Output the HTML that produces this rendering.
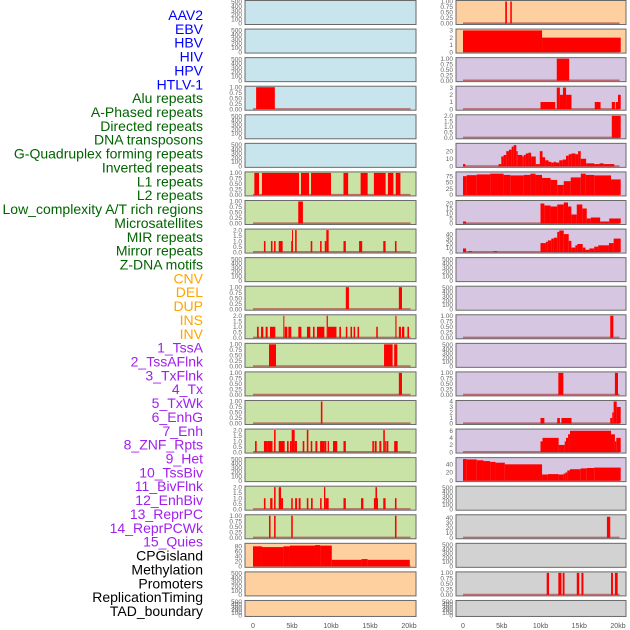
<!DOCTYPE html>
<html><head><meta charset="utf-8">
<style>
html,body{margin:0;padding:0;background:#fff;}
svg{display:block;font-family:"Liberation Sans",sans-serif;}
</style></head>
<body>
<svg id="chart" width="630" height="630" viewBox="0 0 630 630" xmlns="http://www.w3.org/2000/svg"></svg>
<script>
// ---------- labels ----------
const trackLabels=["AAV2","EBV","HBV","HIV","HPV","HTLV-1","Alu repeats","A-Phased repeats","Directed repeats","DNA transposons","G-Quadruplex forming repeats","Inverted repeats","L1 repeats","L2 repeats","Low_complexity A/T rich regions","Microsatellites","MIR repeats","Mirror repeats","Z-DNA motifs","CNV","DEL","DUP","INS","INV","1_TssA","2_TssAFlnk","3_TxFlnk","4_Tx","5_TxWk","6_EnhG","7_Enh","8_ZNF_Rpts","9_Het","10_TssBiv","11_BivFlnk","12_EnhBiv","13_ReprPC","14_ReprPCWk","15_Quies","CPGisland","Methylation","Promoters","ReplicationTiming","TAD_boundary"];
const labelGroups=[6,13,5,15,5];
const groupColors=["#0000ff","#006400","#ffa500","#a020f0","#000000"];
const xTickVals=[0,5,10,15,20];
const xTickLabels=["0","5kb","10kb","15kb","20kb"];

// ---------- left column data [startKb,endKb,value] ----------
const L3=[[0.4,2.8,1]];
const L6=[[0.17,0.77,1],[1.15,5.9,1],[6.15,7.18,1],[7.44,10.0,1],[11.6,12.2,1],[13.8,14.7,1],[15.5,17.0,1],[17.3,18.0,1],[18.3,18.9,1]];
const L7=[[5.8,6.4,1]];
const L8=[[1.4,1.6,1],[2.3,2.5,1],[2.7,2.9,1],[3.3,3.8,1],[4.9,5.0,1],[5.0,5.1,2],[5.4,5.6,2],[7.4,7.6,1],[8.6,8.8,1],[9.2,9.4,1],[9.4,9.7,2],[11.6,11.9,1],[13.6,14.0,1],[16.7,17.0,1],[18.2,18.4,1]];
const L10=[[11.9,12.3,1],[18.7,19.1,1]];
const L11=[[0.51,0.73,1],[1.03,1.32,1],[1.62,1.88,1],[2.18,2.86,1],[3.89,3.98,2],[4.06,4.4,1],[4.53,4.91,1],[5.81,6.2,1],[6.92,7.35,1],[7.69,7.9,1],[8.2,9.15,1],[9.44,9.6,2],[9.6,10.7,1],[11.07,11.28,1],[11.9,12.1,1],[12.5,12.7,1],[12.9,13.1,1],[13.4,13.6,1],[15.8,16.0,1],[18.25,18.4,2],[18.7,18.97,1],[19.1,19.4,1],[19.8,20.0,1]];
const L12=[[2.05,2.95,1],[16.8,17.9,1],[18.1,18.5,1]];
const L13=[[18.7,19.1,1]];
const L14=[[8.7,8.9,1]];
const L15=[[0.26,0.47,1],[1.4,1.84,1],[1.84,2.5,1],[2.7,2.9,2],[3.3,4.06,1],[4.36,4.57,1],[4.74,4.96,1],[4.96,5.34,2],[5.34,5.64,1],[6.37,6.58,1],[6.9,7.1,2],[7.4,7.6,1],[8.0,8.25,1],[8.6,9.2,1],[9.2,9.4,1],[9.57,9.74,1],[10.26,10.8,1],[11.6,11.9,1],[15.3,15.5,1],[15.6,15.85,1],[16.2,16.45,1],[16.7,16.9,2],[16.9,17.0,1],[17.1,17.35,1],[18.1,18.55,1]];
const L17=[[1.4,1.6,1],[2.2,2.5,1],[2.7,2.9,2],[3.3,3.6,2],[3.6,3.85,1],[4.9,5.1,1],[5.4,5.65,1],[5.85,6.1,1],[6.9,7.1,1],[7.44,7.65,1],[8.6,8.8,1],[9.1,9.27,2],[9.27,9.7,1],[11.6,11.9,1],[13.85,14.15,1],[15.5,15.7,1],[15.7,15.9,2],[15.9,16.0,1],[16.7,17.0,1],[18.2,18.4,1]];
const L18=[[2.05,2.25,1],[2.7,2.9,1],[4.9,5.1,1],[18.2,18.4,1]];
const L19=[[0,1.15,80],[1.15,3.9,77],[3.9,4.74,80],[4.74,7.95,83],[7.95,8.6,85],[8.6,10.1,83],[10.1,13.9,26],[13.9,14.7,29],[14.7,20.1,26]];

// ---------- right column data ----------
const R0=[[5.45,5.67,1],[6.1,6.3,1]];
const R1=[[0,10.2,3],[10.2,20.35,2]];
const R2=[[12.1,13.7,1]];
const R3=[[10.0,11.9,1],[12.1,12.5,3],[12.5,12.9,2],[12.9,13.3,3],[13.3,14.0,2],[17.0,17.75,1],[19.2,19.6,1],[19.7,20.0,1],[20.0,20.35,2]];
const R4=[[19.2,20.35,2]];
const R5_edges=[0,0.3,4.59,4.94,5.24,5.58,5.93,6.28,6.54,6.88,7.06,7.66,7.84,8.1,8.44,8.79,9.39,9.65,9.91,10.26,10.6,11.04,11.39,11.73,11.99,12.42,12.86,13.29,13.64,13.98,14.5,14.85,15.19,15.89,16.93,17.62,18.14,19.52];
const R5_vals=[3,0,3,13,15,20,22,26,28,20,15,13,15,17,18,13,3,3,20,12,8,6,5,6,5,8,9,14,16,17,16,20,10,4,3,4,3];
const R6_edges=[0,0.48,1.77,3.5,5.24,6.1,7.84,8.7,9.35,10.2,11.3,12.16,13.0,13.9,15.2,15.84,16.93,19.1,20.35];
const R6_vals=[75,79,82,85,80,78,80,85,80,68,60,40,55,70,85,80,78,62];
const R7_edges=[0,0.4,10.0,10.5,11.3,12.16,13.0,13.55,13.98,14.68,15.4,15.97,16.5,17.7,18.87,20.35];
const R7_vals=[2,0,20,18,17,19,21,17,9,19,15,5,6,2,5];
const R8_edges=[0,0.4,0.7,1.17,3.9,4.4,10.0,10.7,10.95,11.4,11.73,12.16,12.42,13.0,13.64,13.98,14.5,14.76,15.45,15.8,16.3,16.93,17.45,18.83,19.44,20.35];
const R8_vals=[8,0,2,0,2,0,20,23,26,30,32,45,48,40,25,10,15,18,10,5,8,12,15,20,30];
const R11=[[19.0,19.4,1]];
const R13=[[12.3,12.95,1],[19.6,20.0,1]];
const R14=[[10.0,10.5,1],[12.16,12.5,1],[12.7,14.0,1],[19.0,19.26,1],[19.26,19.44,2],[19.44,19.83,4],[19.83,20.35,3]];
const R15_edges=[10.0,10.26,12.34,13.12,13.29,13.55,13.8,19.1,19.6,19.78,20.35];
const R15_vals=[3,4,2,3,4,5,6,5,3,4];
const R16_edges=[0,0.48,1.77,2.64,3.5,4.2,5.4,10.2,10.95,12.34,12.95,13.2,13.46,13.8,15.19,15.97,16.93,20.35];
const R16_vals=[53,52,50,48,46,44,40,15,16,15,17,20,25,28,30,31,32];
const R18=[[18.57,19.0,42]];
const R20=[[10.8,11.1,1],[12.3,12.7,1],[12.86,13.1,1],[14.68,15.0,1],[15.28,15.54,1],[19.1,19.35,1],[19.6,19.96,1]];

// tick sets
const T_EMPTY=[0,100,200,300,400,500];
const T_ONE=[0,0.25,0.5,0.75,1];
const T_TWO=[0,0.5,1,1.5,2];

function steps(edges,vals){const s=[];for(let i=0;i<vals.length;i++){if(vals[i]>0)s.push([edges[i],edges[i+1],vals[i]]);}return s;}

function P(d,ymax,ticks,dec){return {d:d,ymax:ymax,ticks:ticks,dec:dec};}
const E=()=>P(null,510,T_EMPTY,0);
const leftPanels=[E(),E(),E(),P(L3,1,T_ONE,2),E(),E(),P(L6,1,T_ONE,2),P(L7,1,T_ONE,2),P(L8,2,T_TWO,1),E(),P(L10,1,T_ONE,2),P(L11,2,T_TWO,1),P(L12,1,T_ONE,2),P(L13,1,T_ONE,2),P(L14,1,T_ONE,2),P(L15,2,T_TWO,1),E(),P(L17,2,T_TWO,1),P(L18,1,T_ONE,2),P(L19,88,[0,20,40,60,80],0),E(),E()];
const rightPanels=[P(R0,1,T_ONE,2),P(R1,3.05,[0,1,2,3],0),P(R2,1,T_ONE,2),P(R3,3.05,[0,1,2,3],0),P(R4,2,T_TWO,1),P(steps(R5_edges,R5_vals),29,[0,10,20],0),P(steps(R6_edges,R6_vals),88,[0,25,50,75],0),P(steps(R7_edges,R7_vals),22,[0,5,10,15,20],0),P(steps(R8_edges,R8_vals),49,[0,10,20,30,40],0),E(),E(),P(R11,1,T_ONE,2),E(),P(R13,1,T_ONE,2),P(R14,4,[0,1,2,3,4],0),P(steps(R15_edges,R15_vals),6.2,[0,2,4,6],0),P(steps(R16_edges,R16_vals),54,[0,20,40],0),E(),P(R18,44,[0,10,20,30,40],0),E(),P(R20,1,T_ONE,2),E()];
const leftBg=[];for(let i=0;i<22;i++)leftBg.push(i<6?"#c8e4ec":i<19?"#c9e2a6":"#fed09f");
const rightBg=[];for(let i=0;i<22;i++)rightBg.push(i<2?"#fed09f":i<17?"#d6c6e2":"#d2d2d2");

const NS="http://www.w3.org/2000/svg";
const svg=document.getElementById("chart");
function el(tag,attrs,parent){const e=document.createElementNS(NS,tag);for(const k in attrs)e.setAttribute(k,attrs[k]);(parent||svg).appendChild(e);return e;}

let li=0;
labelGroups.forEach((n,g)=>{for(let k=0;k<n;k++){const t=el("text",{x:203,y:15+li*13.86,"text-anchor":"end","dominant-baseline":"central","font-size":"14",fill:groupColors[g]});


t.textContent=trackLabels[li];li++;}});

const cols=[{x0:245,x1:416,z:253,s:7.8,panels:leftPanels,bg:leftBg,name:"left"},{x0:456,x1:626,z:463,s:7.75,panels:rightPanels,bg:rightBg,name:"right"}];
cols.forEach(c=>{
  const xs=kb=>c.z+kb*c.s;
  c.panels.forEach((p,i)=>{
    const top=0.5+i*28.57, h=(i===21?16:24), bot=top+h;
    const g=el("g",{});
    
    
    el("rect",{x:c.x0,y:top,width:c.x1-c.x0,height:h,fill:c.bg[i]},g);
    const ys=v=>bot-1-v/p.ymax*(h-2);
    if(p.d){
      el("line",{x1:xs(0),x2:xs(20.2),y1:bot-1.3,y2:bot-1.3,stroke:"#b04040","stroke-width":1.6,"stroke-opacity":0.7},g);
      p.d.forEach(s=>{const r=el("rect",{x:xs(s[0]),y:ys(s[2]),width:Math.max(1,xs(s[1])-xs(s[0])),height:bot-1-ys(s[2]),fill:"#ff0000"},g);
        
        });
    }
    el("rect",{x:c.x0,y:top,width:c.x1-c.x0,height:h,fill:"none",stroke:"#6a6a6a","stroke-width":1},g);
    p.ticks.forEach(t=>{const tx=el("text",{x:c.x0-3,y:ys(t)+2.2,"text-anchor":"end","font-size":"6.5",fill:"#666"},g);
      
      
      tx.textContent=t.toFixed(p.dec);});
  });
  xTickVals.forEach((v,k)=>{const t=el("text",{x:xs(v),y:628,"text-anchor":"middle","font-size":"7",fill:"#555"});
    
    
    t.textContent=xTickLabels[k];});
});
</script>
</body></html>
